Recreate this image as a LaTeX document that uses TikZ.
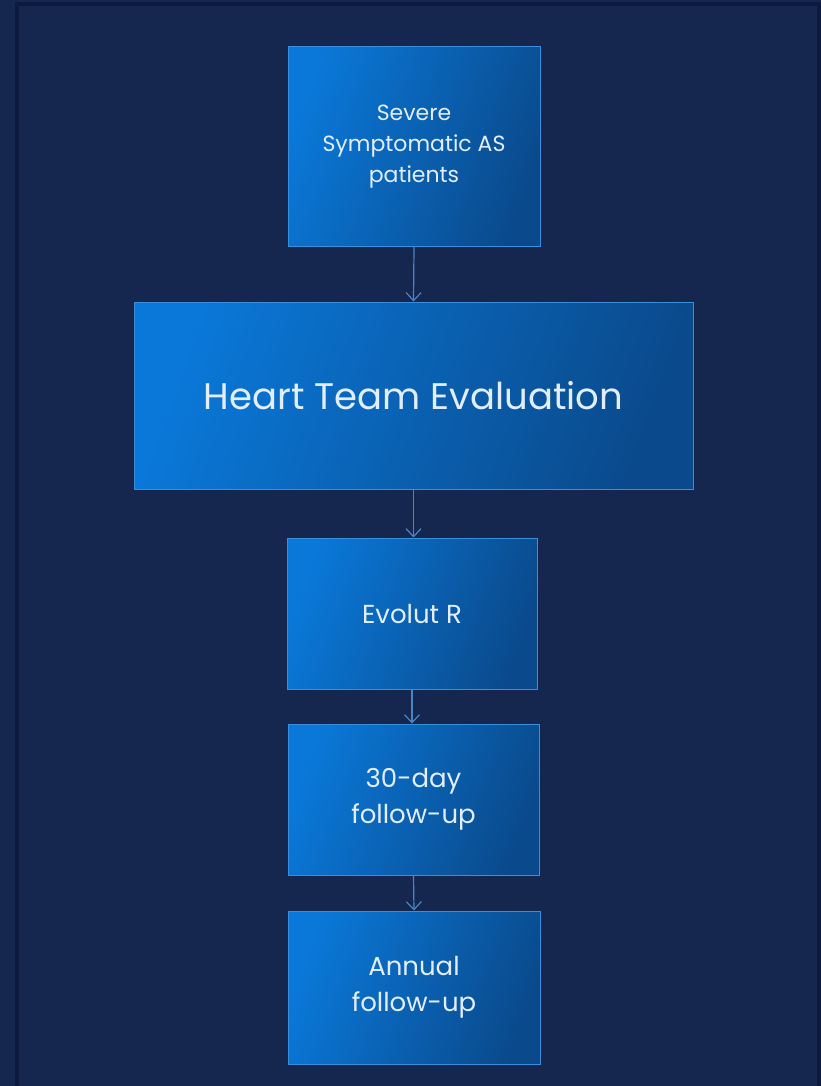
\documentclass[tikz,border=0pt]{standalone}
\usepackage{fontspec}
\setmainfont{Poppins}
\usetikzlibrary{arrows.meta}
\definecolor{bgnavy}{HTML}{15264F}
\definecolor{bgedge}{HTML}{0C1A40}
\definecolor{boxlight}{HTML}{0A78D8}
\definecolor{boxdark}{HTML}{0A4A8C}
\definecolor{boxline}{HTML}{3A8FDC}
\definecolor{txtcol}{HTML}{E2EEFB}
\definecolor{arrcol}{HTML}{4A86C4}
\tikzset{
  stepbox/.style={draw=boxline, line width=1pt, rectangle,
    left color=boxlight, right color=boxdark, shading angle=70,
    text=txtcol, align=center, inner sep=0pt},
  toptext/.style={font=\fontsize{22}{31}\selectfont},
  smalltext/.style={font=\fontsize{26}{36}\selectfont},
  bigtext/.style={font=\fontsize{37}{42}\selectfont},
  flowarrow/.style={draw=arrcol, line width=1.2pt,
    -{Straight Barb[length=8pt,width=15pt,line width=1.2pt]}},
}
\begin{document}
\begin{tikzpicture}[x=1pt,y=-1pt]
\useasboundingbox (0,0) rectangle (821,1086);
\fill[bgnavy] (0,0) rectangle (821,1086);
\draw[bgedge, line width=4pt] (17,1086) -- (17,4) -- (819,4) -- (819,1086);

\node[stepbox, toptext, minimum width=252pt, minimum height=199pt] (sev) at (414,146.5)
  {Severe\\Symptomatic AS\\patients};
\node[stepbox, bigtext, minimum width=559pt, minimum height=187pt] (ht) at (413.5,395.5)
  {Heart Team Evaluation};
\node[stepbox, smalltext, minimum width=250pt, minimum height=151pt] (evo) at (412,613.5)
  {Evolut R};
\node[stepbox, smalltext, minimum width=251pt, minimum height=151pt] (d30) at (413.5,799.5)
  {30-day\\follow-up};
\node[stepbox, smalltext, minimum width=252pt, minimum height=153pt] (ann) at (414,987.5)
  {Annual\\follow-up};

\draw[flowarrow] (sev.south) -- (ht.north);
\draw[flowarrow] (ht.south) -- (ht.south |- evo.north);
\draw[flowarrow] (evo.south) -- (evo.south |- d30.north);
\draw[flowarrow] (d30.south) -- (ann.north);
\end{tikzpicture}
\end{document}
